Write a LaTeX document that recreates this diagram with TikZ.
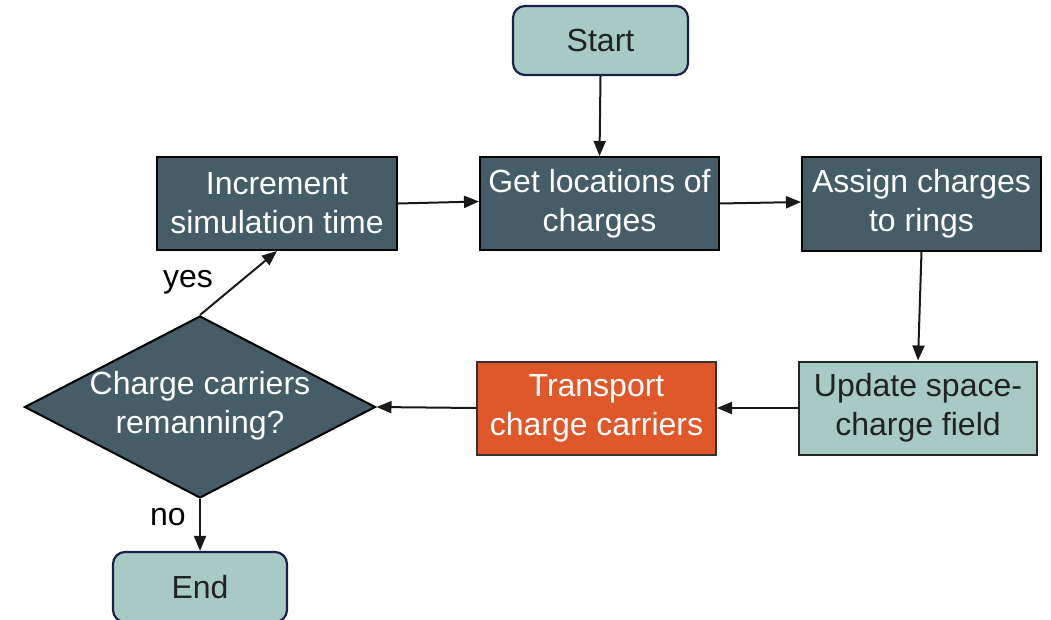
\documentclass[tikz,border=0pt]{standalone}
\usepackage{fontspec}
\setmainfont{Liberation Sans}
\usetikzlibrary{shapes.geometric,arrows.meta}
\definecolor{darkfill}{HTML}{445D66}
\definecolor{lightfill}{HTML}{A7CAC4}
\definecolor{orangefill}{HTML}{E0582A}
\definecolor{navyline}{HTML}{1B1F4B}
\definecolor{textdark}{HTML}{222222}
\begin{document}
\begin{tikzpicture}[x=1pt,y=-1pt,
  every node/.style={font=\fontsize{32}{39}\selectfont, align=center, inner sep=0pt},
  darkbox/.style={draw=black, line width=2pt, fill=darkfill, text=white, minimum width=239pt, minimum height=93pt},
  lightbox/.style={draw=black!85, line width=2pt, fill=lightfill, text=textdark, minimum width=238pt, minimum height=93pt},
  orangebox/.style={draw=black!80, line width=2pt, fill=orangefill, text=white, minimum width=239pt, minimum height=93pt},
  termbox/.style={draw=navyline, line width=2.2pt, rounded corners=12pt, fill=lightfill, text=textdark, minimum width=175pt, minimum height=69pt},
  decbox/.style={draw=black, line width=2pt, fill=darkfill, shape=diamond, minimum width=351pt, minimum height=182pt},
  lab/.style={text=black},
  flow/.style={draw=black!90, line width=2pt, -{Triangle[length=15pt,width=12pt]}}
]
\useasboundingbox (0,0) rectangle (1051,620);
\begin{scope}
\clip (0,0) rectangle (1051,620);
\node[termbox] (start) at (600.5,40.5) {Start};
\node[darkbox] (get) at (599.5,203.5) {Get locations of\\charges};
\node[darkbox, minimum width=240pt] (inc) at (277,203.5) {Increment\\simulation time};
\node[darkbox] (asg) at (921.5,204) {Assign charges\\to rings};
\node[lightbox] (upd) at (918,408) {Update space-\\charge field};
\node[orangebox] (trn) at (596.5,408) {Transport\\charge carriers};
\node[decbox] (dia) at (200,407) {};
\node[text=white] (diatext) at ([yshift=1pt]dia.center) {Charge carriers\\remanning?};
\node[termbox, minimum width=174pt, minimum height=70pt] (end) at (200,587) {End};
\node[lab] (yes) at (188,282) {yes};
\node[lab] (no) at (168,517) {no};

\draw[flow] (start.south) -- (get.north);
\draw[flow] (inc.east) -- ([yshift=2pt]get.west);
\draw[flow] (get.east) -- ([yshift=2pt]asg.west);
\draw[flow] (asg.south) -- (upd.north);
\draw[flow] (upd.west) -- (trn.east);
\draw[flow] (trn.west) -- (dia.east);
\draw[flow] (dia.north) -- (inc.south);
\draw[flow] (dia.south) -- (end.north);
\end{scope}
\end{tikzpicture}
\end{document}
